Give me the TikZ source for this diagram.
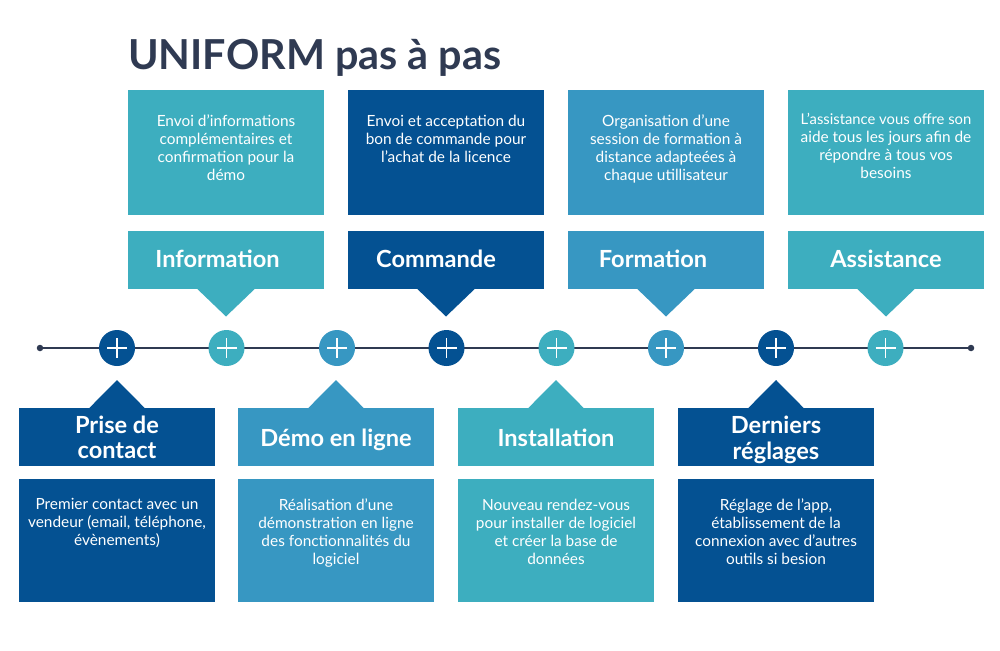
\documentclass[tikz,border=0pt]{standalone}
\usepackage{fontspec}
\setmainfont{Lato}
\usetikzlibrary{calc}
\definecolor{navy}{HTML}{045192}
\definecolor{teal}{HTML}{3DAEBF}
\definecolor{sky}{HTML}{3797C2}
\definecolor{ink}{HTML}{2F3A52}
\tikzset{
  x=1pt,y=-1pt,
  txt/.style={anchor=north,align=center,text=white,inner sep=0pt,font=\fontsize{15.4}{18}\selectfont},
  head/.style={anchor=center,align=center,text=white,inner sep=0pt,font=\fontsize{23.6}{24.5}\selectfont\bfseries},
  card/.style={anchor=north west,minimum width=196pt,inner sep=0pt,outer sep=0pt,fill=#1,draw=none},
  plusnode/.style={circle,minimum size=36pt,inner sep=0pt,fill=#1},
  dot/.style={circle,minimum size=6.5pt,inner sep=0pt,fill=ink},
  bar/.style={draw=white,line width=1.6pt},
  timeline/.style={draw=ink,line width=1.7pt}
}
% name, x-left, colour, heading, body, heading x offset, body y offset
\newcommand{\topitem}[7]{%
  \node[card=#3,minimum height=124.5pt] (#1b) at (#2,90.5) {};
  \node[card=#3,minimum height=58pt] (#1h) at (#2,231) {};
  \fill[#3] ($(#1h.south)+(-29,-0.3)$) -- ($(#1h.south)+(29,-0.3)$) -- ($(#1h.south)+(0,27.5)$) -- cycle;
  \node[head] (#1t) at ($(#1h.center)+(#6,2)$) {\strut #4};
  \node[txt] (#1x) at ($(#1b.north)+(0,#7)$) {#5};
}
\newcommand{\botitem}[5]{%
  \node[card=#3,minimum height=58pt] (#1h) at (#2,408) {};
  \node[card=#3,minimum height=123pt] (#1b) at (#2,479) {};
  \fill[#3] ($(#1h.north)+(-28,0.3)$) -- ($(#1h.north)+(28,0.3)$) -- ($(#1h.north)+(0,-28)$) -- cycle;
  \node[head] (#1t) at ($(#1h.center)+(0,4)$) {#4};
  \node[txt] (#1x) at ($(#1b.north)+(0,19.5)$) {#5};
}
\newcommand{\plusat}[3]{%
  \node[plusnode=#3] (#1) at (#2,348) {};
  \draw[bar] ($(#1.center)+(-10,0)$) -- ($(#1.center)+(10,0)$);
  \draw[bar] ($(#1.center)+(0,-10)$) -- ($(#1.center)+(0,10)$);
}
\begin{document}
\begin{tikzpicture}
\useasboundingbox (0,0) rectangle (1000,650);
\fill[white] (0,0) rectangle (1000,650);
\node[anchor=west,inner sep=0pt,text=ink,font=\fontsize{41.3}{46}\selectfont\bfseries] (title) at (128,58) {UNIFORM pas à pas};
\node[dot] (start) at (40,348) {};
\node[dot] (end) at (971,348) {};
\draw[timeline] (start) -- (end);
\plusat{p1}{117}{navy}
\plusat{p2}{226.5}{teal}
\plusat{p3}{337}{sky}
\plusat{p4}{446.5}{navy}
\plusat{p5}{556.5}{teal}
\plusat{p6}{666}{sky}
\plusat{p7}{776}{navy}
\plusat{p8}{885.5}{teal}
\topitem{a}{128}{teal}{Information}{Envoi d’informations\\complémentaires et\\confirmation pour la\\démo}{-8.5}{24.5}
\topitem{b}{348}{navy}{Commande}{Envoi et acceptation du\\bon de commande pour\\l’achat de la licence}{-10}{24.5}
\topitem{c}{568}{sky}{Formation}{Organisation d’une\\session de formation à\\distance adapteées à\\chaque utillisateur}{-13}{24.5}
\topitem{d}{788}{teal}{Assistance}{\fontsize{14.8}{18}\selectfont L’assistance vous offre son\\aide tous les jours afin de\\répondre à tous vos\\besoins}{0}{22.5}
\botitem{e}{19}{navy}{\strut Prise de\\\strut contact}{Premier contact avec un\\vendeur (email, téléphone,\\évènements)}
\botitem{f}{238}{sky}{\strut Démo en ligne}{Réalisation d’une\\démonstration en ligne\\des fonctionnalités du\\logiciel}
\botitem{g}{458}{teal}{\strut Installation}{Nouveau rendez-vous\\pour installer de logiciel\\et créer la base de\\données}
\botitem{h}{678}{navy}{\strut Derniers\\\strut réglages}{Réglage de l’app,\\établissement de la\\connexion avec d’autres\\outils si besion}
\end{tikzpicture}
\end{document}
